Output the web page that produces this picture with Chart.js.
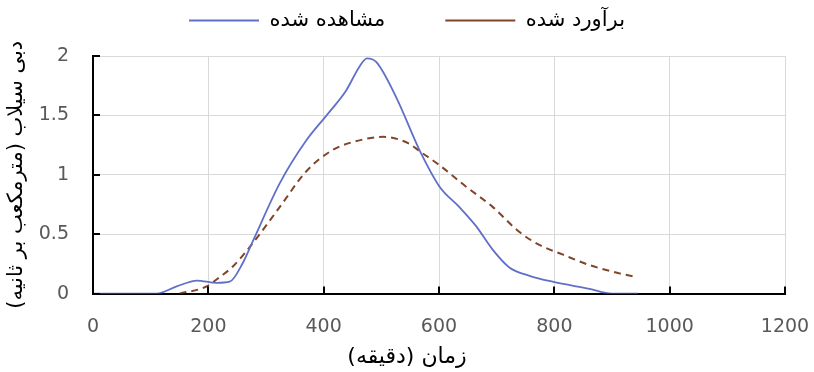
<!DOCTYPE html>
<html>
<head>
<meta charset="utf-8">
<script src="https://cdn.jsdelivr.net/npm/chart.js@4.4.1/dist/chart.umd.min.js"></script>
<style>
  html, body { margin: 0; padding: 0; background: #fff; }
  #wrap { width: 814px; height: 372px; }
</style>
</head>
<body>
<div id="wrap"><canvas id="chart"></canvas></div>
<script>
// observed hydrograph (minutes, m3/s)
const obsTime = [0, 110, 145, 180, 214, 237, 260, 278, 324, 370, 405, 439, 462, 475, 491, 526, 566, 601, 635, 664, 693, 722, 757, 797, 861, 900, 945];
const obsFlow = [0, 0, 0.06, 0.11, 0.09, 0.10, 0.26, 0.45, 0.93, 1.29, 1.50, 1.71, 1.91, 1.98, 1.95, 1.65, 1.21, 0.90, 0.73, 0.57, 0.37, 0.22, 0.15, 0.10, 0.04, 0, 0];

// estimated hydrograph
const estTime = [150, 197, 220, 243, 278, 324, 370, 416, 462, 503, 549, 566, 601, 647, 693, 739, 774, 814, 861, 913, 941];
const estFlow = [0, 0.06, 0.14, 0.23, 0.43, 0.73, 1.03, 1.21, 1.29, 1.32, 1.26, 1.20, 1.08, 0.90, 0.73, 0.52, 0.41, 0.33, 0.24, 0.17, 0.14];

const xTicks = [0, 200, 400, 600, 800, 1000, 1200];
const yTicks = [0, 0.5, 1, 1.5, 2];

const seriesNames = ['مشاهده شده', 'برآورد شده'];
const xTitle = 'زمان (دقیقه)';
const yTitle = 'دبی سیلاب (مترمکعب بر ثانیه)';

const toPoints = (xs, ys) => xs.map((x, i) => ({ x: x, y: ys[i] }));

// short tick marks drawn inside the plot, like the original
const innerTicks = {
  id: 'innerTicks',
  afterDraw(chart) {
    const ctx = chart.ctx;
    const area = chart.chartArea;
    const xs = chart.scales.x, ys = chart.scales.y;
    ctx.save();
    ctx.strokeStyle = '#000';
    ctx.lineWidth = 2;
    ctx.beginPath();
    xTicks.forEach(v => {
      const px = Math.round(xs.getPixelForValue(v));
      ctx.moveTo(px, area.bottom);
      ctx.lineTo(px, area.bottom - 7);
    });
    yTicks.forEach(v => {
      const py = Math.round(ys.getPixelForValue(v));
      ctx.moveTo(area.left, py);
      ctx.lineTo(area.left + 7, py);
    });
    ctx.stroke();
    ctx.restore();
  }
};

Chart.defaults.font.family = "'DejaVu Sans', sans-serif";

new Chart(document.getElementById('chart').getContext('2d'), {
  type: 'line',
  data: {
    datasets: [
      {
        label: seriesNames[0],
        data: toPoints(obsTime, obsFlow),
        borderColor: '#6070c8',
        borderWidth: 1.8,
        pointRadius: 0,
        cubicInterpolationMode: 'monotone',
        fill: false,
      },
      {
        label: seriesNames[1],
        data: toPoints(estTime, estFlow),
        borderColor: '#80452b',
        borderWidth: 2,
        borderDash: [7, 5],
        pointRadius: 0,
        cubicInterpolationMode: 'monotone',
        fill: false,
      },
    ],
  },
  options: {
    responsive: true,
    maintainAspectRatio: false,
    animation: false,
    layout: { padding: { top: -50, left: 0, right: 0, bottom: 0 } },
    plugins: {
      legend: {
        position: 'top',
        labels: {
          color: '#000',
          font: { size: 21 },
          padding: 60,
          usePointStyle: true,
          pointStyle: 'line',
          pointStyleWidth: 70,
        },
      },
      title: {
        display: true,
        position: 'bottom',
        text: xTitle,
        color: '#000',
        font: { size: 22, weight: 'normal' },
        padding: { top: 0, bottom: 2 },
      },
      tooltip: { enabled: false },
    },
    scales: {
      x: {
        type: 'linear',
        min: 0,
        max: 1200,
        afterBuildTicks: s => { s.ticks = xTicks.map(v => ({ value: v })); },
        afterFit: s => { s.height = 50; },
        grid: { color: '#d9d9d9', tickColor: 'rgba(0,0,0,0)', tickLength: 22 },
        border: { color: '#000', width: 2 },
        ticks: { color: '#595959', font: { size: 19 }, padding: 0, autoSkip: false, maxRotation: 0,
                 callback: v => String(v) },
      },
      y: {
        min: 0,
        max: 2,
        afterBuildTicks: s => { s.ticks = yTicks.map(v => ({ value: v })); },
        afterFit: s => { s.width = 93; },
        grid: { color: '#d9d9d9', tickColor: 'rgba(0,0,0,0)', tickLength: 24 },
        border: { color: '#000', width: 2 },
        ticks: { color: '#595959', font: { size: 19 }, padding: 0, callback: v => String(v) },
        title: {
          display: true,
          text: yTitle,
          color: '#000',
          font: { size: 21 },
          padding: { top: 4, bottom: 0 },
        },
      },
      // empty boxes that only reserve space around the plot
      top: {
        position: 'top',
        type: 'linear',
        display: true,
        afterFit: s => { s.height = 15; },
        grid: { display: false },
        border: { display: false },
        ticks: { display: false },
      },
      right: {
        position: 'right',
        type: 'linear',
        display: true,
        afterFit: s => { s.width = 29; },
        grid: { display: false },
        border: { display: false },
        ticks: { display: false },
      },
    },
  },
  plugins: [innerTicks],
});
</script>
</body>
</html>
